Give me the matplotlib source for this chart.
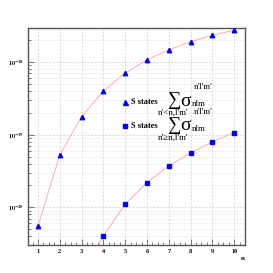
import matplotlib
matplotlib.use("Agg")
import matplotlib.pyplot as plt
from matplotlib.ticker import LogLocator, FixedLocator, NullFormatter

# n values and cross sections
n_below = [1, 2, 3, 4, 5, 6, 7, 8, 9, 10]
sigma_below = [10**-20.26, 10**-19.28, 10**-18.75, 10**-18.40, 10**-18.15,
               10**-17.97, 10**-17.83, 10**-17.72, 10**-17.63, 10**-17.56]

n_above = [3, 4, 5, 6, 7, 8, 9, 10]
sigma_above = [10**-21.0, 10**-20.39, 10**-19.96, 10**-19.66, 10**-19.43,
               10**-19.25, 10**-19.10, 10**-18.97]

xticks = [1, 2, 3, 4, 5, 6, 7, 8, 9, 10]
legend_sub = ["n'<n,l'm'", "n'\u2265n,l'm'"]

plt.rcParams['mathtext.fontset'] = 'stix'
plt.rcParams['font.family'] = ['Liberation Serif', 'DejaVu Serif']

fig = plt.figure(figsize=(2.73, 2.73), dpi=100)
ax = fig.add_axes([28 / 273, 28 / 273, 217 / 273, 217 / 273])

line_col = '#ff9f9f'
ax.plot(n_below, sigma_below, color=line_col, lw=0.6, zorder=2)
ax.plot(n_below, sigma_below, ls='none', marker='^', ms=3.2, color='#0000ff', zorder=3)
ax.plot(n_above, sigma_above, color=line_col, lw=0.6, zorder=2)
ax.plot(n_above[1:], sigma_above[1:], ls='none', marker='s', ms=3.0, color='#0000ff', zorder=3)

ax.set_yscale('log')
ax.set_xlim(0.54, 10.5)
ax.set_ylim(10**-20.52, 10**-17.53)

ax.xaxis.set_major_locator(FixedLocator(xticks))
ax.xaxis.set_minor_locator(FixedLocator([x + 0.5 for x in range(0, 11)]
                                        + [x + 0.25 for x in range(0, 11)]
                                        + [x + 0.75 for x in range(0, 11)]))
ax.set_xticklabels([str(x) for x in xticks], fontsize=4.5, fontweight='bold')
ax.yaxis.set_minor_locator(LogLocator(base=10, subs=range(2, 10), numticks=20))
ax.yaxis.set_minor_formatter(NullFormatter())
ax.set_yticks([1e-20, 1e-19, 1e-18])
ax.set_yticklabels([r'$\mathbf{10^{-20}}$', r'$\mathbf{10^{-19}}$', r'$\mathbf{10^{-18}}$'],
                   fontsize=4.5)

ax.grid(True, which='major', color='#cccccc', ls=(0, (3, 2)), lw=0.5)
ax.grid(True, which='minor', axis='y', color='#dddddd', ls=(0, (3, 2)), lw=0.4)
ax.tick_params(which='both', direction='in', color='#444444', width=0.5)
ax.tick_params(which='major', length=4, pad=3)
ax.tick_params(which='minor', length=2)
for s in ax.spines.values():
    s.set_color('#555555')
    s.set_linewidth(1.0)

fig.text(243 / 273, 1 - 258 / 273, 'n', fontsize=5, fontweight='bold', ha='center', va='center')


def fy(y):
    return 1 - y / 273


# legend drawn by hand, piece by piece
for i, (marker, ms) in enumerate([('^', 3.6), ('s', 3.2)]):
    y0 = 101.5 + i * 24.5
    fig.lines.append(plt.Line2D([124.5 / 273], [fy(y0)], marker=marker, ms=ms, color='#0000ff',
                                transform=fig.transFigure))
    fig.text(131 / 273, fy(y0), 'S states', fontsize=6, fontweight='bold', va='center')
    fig.text(173.5 / 273, fy(y0 + 3.5), '\u2211', fontsize=13.5, ha='center', va='baseline')
    fig.text(173.5 / 273, fy(y0 + 11.5), legend_sub[i], fontsize=6.5, ha='center', va='center')
    fig.text(180.5 / 273, fy(y0 + 4), '\u03c3', fontsize=14, va='baseline')
    fig.text(192 / 273, fy(y0 + 4.5), 'nlm', fontsize=6.5, va='baseline')
    fig.text(194 / 273, fy(y0 - 14.5), "n'l'm'", fontsize=6.5, va='center')

fig.savefig('out.png', dpi=100)
